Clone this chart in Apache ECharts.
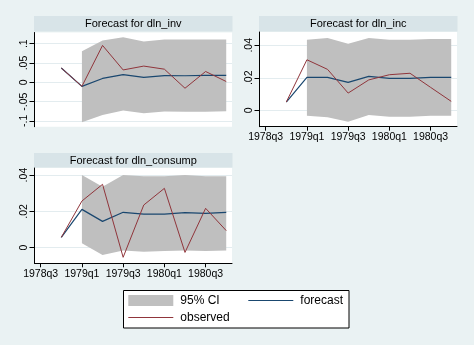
<!DOCTYPE html>
<html>
<head>
<meta charset="utf-8">
<script src="https://cdn.jsdelivr.net/npm/echarts@6/dist/echarts.min.js"></script>
<style>
html,body{margin:0;padding:0;background:#eaf2f3;}
#chart{width:474px;height:345px;}
</style>
</head>
<body>
<div id="chart"></div>
<script>
// ---- data ----
const quarters = ['1978q4','1979q1','1979q2','1979q3','1979q4','1980q1','1980q2','1980q3','1980q4'];
const xTickLabels = ['1978q3','1979q1','1979q3','1980q1','1980q3'];

const invObserved = [0.037, -0.0105, 0.0955, 0.032, 0.042, 0.034, -0.0154, 0.028, 0.002];
const invForecast = [0.037, -0.0105, 0.010, 0.020, 0.013, 0.0175, 0.0170, 0.0180, 0.0180];
const invUpper    = [null, 0.0805, 0.108, 0.117, 0.106, 0.111, 0.111, 0.111, 0.111];
const invLower    = [null, -0.1036, -0.085, -0.073, -0.080, -0.0755, -0.076, -0.076, -0.075];
const invYTicks   = ['-.1','-.05','0','.05','.1'];

const incObserved = [0.0051, 0.0311, 0.0252, 0.0106, 0.0187, 0.0219, 0.0228, 0.0141, 0.0055];
const incForecast = [0.0051, 0.0203, 0.0203, 0.0172, 0.0209, 0.0197, 0.0197, 0.0203, 0.0203];
const incUpper    = [null, 0.0434, 0.0445, 0.0410, 0.0445, 0.0434, 0.0434, 0.0439, 0.0439];
const incLower    = [null, -0.0033, -0.0043, -0.0070, -0.0029, -0.0039, -0.0039, -0.0033, -0.0033];
const incYTicks   = ['0','.02','.04'];

const conObserved = [0.0057, 0.0257, 0.0349, -0.0053, 0.0235, 0.0327, -0.0026, 0.0217, 0.0094];
const conForecast = [0.0057, 0.0211, 0.0145, 0.0195, 0.0185, 0.0185, 0.0193, 0.0189, 0.0195];
const conUpper    = [null, 0.0400, 0.0336, 0.0400, 0.0394, 0.0394, 0.0400, 0.0394, 0.0394];
const conLower    = [null, 0.0024, -0.0040, -0.0016, -0.0022, -0.0018, -0.0016, -0.0018, -0.0016];
const conYTicks   = ['0','.02','.04'];

const panelTitles = ['Forecast for dln_inv', 'Forecast for dln_inc', 'Forecast for dln_consump'];

// ---- helpers ----
function tq(s){ const y = parseInt(s.slice(0,4),10); const q = parseInt(s.slice(5),10); return (y-1960)*4 + q - 1; }
function tqLabel(v){ const n = Math.round(v); const y = 1960 + Math.floor(n/4); const q = n - (y-1960)*4 + 1; return y + 'q' + q; }
const xVals = quarters.map(tq);
const xTickVals = xTickLabels.map(tq);
function pairs(arr){ return arr.map((v,i)=>[xVals[i], v]); }

const FONT = 'Liberation Sans, Arial, sans-serif';
const BLUE = '#1a476f', RED = '#90353b', GREY = '#bfbfbf';

const grids = [
  {left:34.5, top:32.5, width:197.5, height:94.2},
  {left:259.5, top:32, width:197.5, height:94.7},
  {left:34.5, top:168, width:197.5, height:95.3}
];
const yRanges = [[-0.115, 0.129], [-0.0101, 0.0482], [-0.0086, 0.0439]];
const yTickSets = [invYTicks, incYTicks, conYTicks];
const showX = [false, true, true];
const panels = [
  [invObserved, invForecast, invUpper, invLower],
  [incObserved, incForecast, incUpper, incLower],
  [conObserved, conForecast, conUpper, conLower]
];

const xAxes = grids.map((g,i)=>({
  type:'value', gridIndex:i, min:73.7, max:83.28,
  axisLine:{show:showX[i], onZero:false, lineStyle:{color:'#000', width:1}},
  axisTick:{show:showX[i], length:4, customValues:xTickVals, lineStyle:{color:'#000'}},
  axisLabel:{show:showX[i], customValues:xTickVals, formatter:(v)=>tqLabel(v), fontSize:10.5, fontFamily:FONT, color:'#000', margin:5},
  splitLine:{show:false}
}));
const yAxes = grids.map((g,i)=>{
  const labels = yTickSets[i];
  const vals = labels.map(parseFloat);
  return {
    type:'value', gridIndex:i, min:yRanges[i][0], max:yRanges[i][1],
    axisLine:{show:true, onZero:false, lineStyle:{color:'#000', width:1}},
    axisTick:{show:true, length:5, customValues:vals, lineStyle:{color:'#000'}},
    axisLabel:{customValues:vals, rotate:90, fontSize:10.5, fontFamily:FONT, color:'#000', margin:5,
      formatter:(v)=>{ let best=0; vals.forEach((t,k)=>{ if(Math.abs(t-v)<Math.abs(vals[best]-v)) best=k; }); return labels[best]; }},
    splitLine:{show:true, lineStyle:{color:'#e3ecef', width:1}}
  };
});

const series = [];
panels.forEach((p,i)=>{
  const [obs, fc, up, lo] = p;
  series.push({name:'95% CI', type:'custom', xAxisIndex:i, yAxisIndex:i, z:1, silent:true,
    itemStyle:{color:GREY},
    data:[[xVals[1], up[1]]],
    renderItem:(params, api)=>{
      const pts = [];
      for(let k=0;k<up.length;k++){ if(up[k]!=null) pts.push(api.coord([xVals[k], up[k]])); }
      for(let k=lo.length-1;k>=0;k--){ if(lo[k]!=null) pts.push(api.coord([xVals[k], lo[k]])); }
      return {type:'polygon', shape:{points:pts}, style:{fill:GREY}};
    }
  });
  series.push({name:'forecast', type:'line', xAxisIndex:i, yAxisIndex:i, data:pairs(fc), symbol:'none',
    itemStyle:{color:BLUE}, lineStyle:{color:BLUE, width:1.2}, z:3});
  series.push({name:'observed', type:'line', xAxisIndex:i, yAxisIndex:i, data:pairs(obs), symbol:'none',
    itemStyle:{color:RED}, lineStyle:{color:RED, width:1}, z:4});
});

const bands = [
  {x:34, y:16, w:198.5, h:15.5},
  {x:259, y:16, w:198.5, h:15.5},
  {x:34, y:153, w:198.5, h:14.5}
];
const graphics = [];
bands.forEach((b,i)=>{
  graphics.push({type:'rect', shape:{x:b.x, y:b.y, width:b.w, height:b.h}, style:{fill:'#d8e4e8'}, silent:true, z:-1});
  graphics.push({type:'text', x:b.x + b.w/2, y:b.y + b.h/2 + 0.5, style:{text:panelTitles[i], fontSize:11, fontFamily:FONT, fill:'#000', textAlign:'center', textVerticalAlign:'middle'}, silent:true});
});
graphics.push({type:'rect', shape:{x:123.5, y:290.5, width:225.5, height:37.5}, style:{fill:'#fff', stroke:'#000', lineWidth:1}, silent:true, z:-1});

const legBase = {orient:'horizontal', padding:0, itemGap:0, itemWidth:45, selectedMode:false,
  textStyle:{fontSize:12, fontFamily:FONT, color:'#000', padding:[0,0,0,2]}, itemStyle:{borderWidth:0}};
const legends = [
  Object.assign({}, legBase, {left:128.3, top:294.5, itemHeight:11, data:[{name:'95% CI', icon:'rect', itemStyle:{color:GREY, borderWidth:0}}]}),
  Object.assign({}, legBase, {left:248.3, top:294.5, itemHeight:1.1, data:[{name:'forecast', icon:'rect', itemStyle:{color:BLUE, borderWidth:0}}]}),
  Object.assign({}, legBase, {left:128.3, top:311.5, itemHeight:1, data:[{name:'observed', icon:'rect', itemStyle:{color:RED, borderWidth:0}}]})
];

const chart = echarts.init(document.getElementById('chart'), null, {renderer:'canvas'});
chart.setOption({
  backgroundColor:'#eaf2f3',
  animation:false,
  grid: grids.map(g=>Object.assign({show:true, backgroundColor:'#fff', borderWidth:0, containLabel:false}, g)),
  xAxis: xAxes,
  yAxis: yAxes,
  legend: legends,
  graphic: graphics,
  series: series
});
</script>
</body>
</html>
